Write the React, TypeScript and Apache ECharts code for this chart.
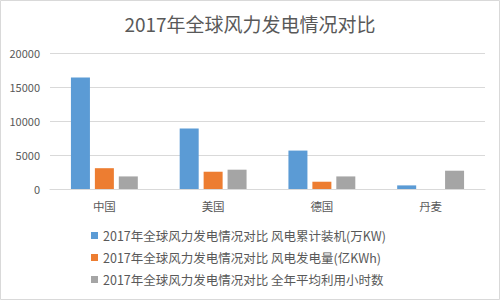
import React, { useEffect, useRef } from "react";
import * as echarts from "echarts";

const categories = ["中国", "美国", "德国", "丹麦"];
const seriesNames = [
  "2017年全球风力发电情况对比 风电累计装机(万KW)",
  "2017年全球风力发电情况对比 风电发电量(亿KWh)",
  "2017年全球风力发电情况对比 全年平均利用小时数",
];
const installed = [16400, 8900, 5650, 530];
const generation = [3060, 2540, 1070, 0];
const hours = [1850, 2840, 1850, 2690];
const colors = ["#5b9bd5", "#ed7d31", "#a5a5a5"];
const yTicks = { min: 0, max: 20000, interval: 5000 };

export default function App() {
  const ref = useRef<HTMLDivElement>(null);
  useEffect(() => {
    if (!ref.current) return;
    const chart = echarts.init(ref.current, null, { renderer: "svg" });
    const font = "'Noto Sans CJK SC', 'Noto Sans', sans-serif";
    const data = [installed, generation, hours];
    chart.setOption({
      animation: false,
      backgroundColor: "#ffffff",
      textStyle: { fontFamily: font },
      title: {
        text: "2017年全球风力发电情况对比",
        left: "center",
        top: 9,
        textStyle: { fontSize: 19, fontWeight: "normal", color: "#595959", fontFamily: font },
      },
      graphic: [
        {
          type: "rect",
          shape: { x: 0.5, y: 0.5, width: 499, height: 299 },
          style: { fill: "none", stroke: "#d9d9d9", lineWidth: 1 },
          silent: true,
        },
      ],
      legend: {
        orient: "vertical",
        left: 86,
        top: 224,
        itemWidth: 7,
        itemHeight: 7,
        itemGap: 9,
        icon: "rect",
        textStyle: { fontSize: 12.5, lineHeight: 13, color: "#595959", fontFamily: font },
        data: seriesNames,
      },
      grid: { left: 50, right: 15, top: 53, bottom: 111 },
      xAxis: {
        type: "category",
        data: categories,
        axisLine: { lineStyle: { color: "#d9d9d9" } },
        axisTick: { show: false },
        axisLabel: { color: "#595959", fontSize: 11.5, margin: 11, fontFamily: font },
      },
      yAxis: {
        type: "value",
        min: yTicks.min,
        max: yTicks.max,
        interval: yTicks.interval,
        axisLine: { show: false },
        axisTick: { show: false },
        splitLine: { lineStyle: { color: "#d9d9d9" } },
        axisLabel: {
          color: "#595959",
          fontSize: 11,
          margin: 10,
          fontFamily: font,
          formatter: (v: number) => String(v),
        },
      },
      series: seriesNames.map((name, i) => ({
        name,
        type: "bar",
        data: data[i],
        barWidth: 19,
        barGap: "26%",
        itemStyle: { color: colors[i] },
      })),
    });
    return () => chart.dispose();
  }, []);
  return (
    <div
      ref={ref}
      style={{ position: "fixed", left: 0, top: 0, width: 500, height: 300 }}
    />
  );
}
